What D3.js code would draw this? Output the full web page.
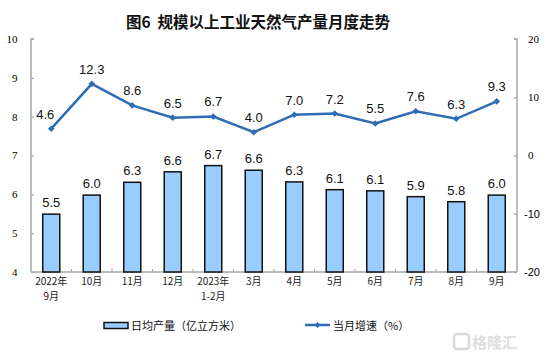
<!DOCTYPE html>
<html><head><meta charset="utf-8">
<script src="https://cdn.jsdelivr.net/npm/d3@7"></script>
<style>body{margin:0;background:#fff}svg{display:block}</style>
</head><body>
<svg id="c" width="554" height="357"></svg>
<script>
const categories = [["2022年","9月"],["10月"],["11月"],["12月"],["2023年","1-2月"],["3月"],["4月"],["5月"],["6月"],["7月"],["8月"],["9月"]];
const outputValues = [5.49,5.98,6.31,6.58,6.74,6.62,6.32,6.12,6.09,5.94,5.81,5.98];
const outputLabels = ["5.5","6.0","6.3","6.6","6.7","6.6","6.3","6.1","6.1","5.9","5.8","6.0"];
const growthValues = [4.6,12.3,8.6,6.5,6.7,4.0,7.0,7.2,5.5,7.6,6.3,9.3];
const growthLabels = ["4.6","12.3","8.6","6.5","6.7","4.0","7.0","7.2","5.5","7.6","6.3","9.3"];
const leftTicks = [4,5,6,7,8,9,10];
const rightTicks = [-20,-10,0,10,20];
const title = "图6  规模以上工业天然气产量月度走势";
const legendBar = "日均产量（亿立方米）";
const legendLine = "当月增速（%）";

const svg = d3.select("#c");
const L = 31, R = 517, T = 39, B = 272;
const idx = d3.range(categories.length);
const x = d3.scaleBand().domain(idx).range([L, R]).paddingInner(0.58).paddingOuter(0.29);
const xb = d3.scaleBand().domain(idx).range([L, R]);
const yL = d3.scaleLinear().domain([4, 10]).range([B, T]);
const yR = d3.scaleLinear().domain([-20, 20]).range([B, T]);
const axisColor = "#a6a6a6";
const blue = "#2E6DB5";
const cjk = "'Noto Sans CJK SC', 'Noto Sans', sans-serif";
const sans = "'Liberation Sans', Arial, sans-serif";
const serif = "'Liberation Serif', 'Times New Roman', serif";

// title
svg.append("text").attr("x", 258).attr("y", 28).attr("text-anchor", "middle")
  .attr("font-family", cjk).attr("font-size", 15.5).attr("font-weight", 700).attr("fill", "#111")
  .attr("xml:space", "preserve").text(title);

// left axis
const gl = svg.append("g").attr("transform", `translate(${L},0)`)
  .call(d3.axisRight(yL).tickValues(leftTicks).tickSize(3).tickFormat(""));
gl.select(".domain").attr("d", `M3,${T}H0V${B}`).attr("stroke", axisColor).attr("stroke-width", 1.5);
gl.selectAll(".tick line").attr("stroke", axisColor).attr("stroke-width", 1.2);
svg.append("g").selectAll("text").data(leftTicks).join("text")
  .attr("x", 17.5).attr("y", d => yL(d)).attr("dy", "0.35em").attr("text-anchor", "end")
  .attr("font-family", serif).attr("font-size", 11).attr("fill", "#000").text(d => d);

// right axis
const gr = svg.append("g").attr("transform", `translate(${R},0)`)
  .call(d3.axisLeft(yR).tickValues(rightTicks).tickSize(3).tickFormat(""));
gr.select(".domain").attr("d", `M-3,${T}H0V${B}`).attr("stroke", axisColor).attr("stroke-width", 1.5);
gr.selectAll(".tick line").attr("stroke", axisColor).attr("stroke-width", 1.2);
svg.append("g").selectAll("text").data(rightTicks).join("text")
  .attr("x", d => d < 0 ? 524 : 528).attr("y", d => yR(d)).attr("dy", "0.35em")
  .attr("font-family", d => d < 0 ? sans : serif).attr("font-size", 11).attr("fill", "#000").text(d => d);

// x axis
svg.append("line").attr("x1", L).attr("x2", R).attr("y1", B).attr("y2", B)
  .attr("stroke", axisColor).attr("stroke-width", 1.5);
svg.append("g").selectAll("line").data(idx.slice(1)).join("line")
  .attr("x1", d => xb(d)).attr("x2", d => xb(d)).attr("y1", B).attr("y2", B - 3)
  .attr("stroke", axisColor).attr("stroke-width", 1);
const xl = svg.append("g").selectAll("text").data(idx).join("text")
  .attr("x", d => xb(d) + xb.bandwidth() / 2).attr("y", 285).attr("text-anchor", "middle")
  .attr("font-family", cjk).attr("font-size", 10).attr("fill", "#222");
xl.selectAll("tspan").data(d => categories[d].map(t => ({t, cx: xb(d) + xb.bandwidth() / 2}))).join("tspan")
  .attr("x", d => d.cx).attr("dy", (d, i) => i ? 14.6 : 0).text(d => d.t);

// bars
svg.append("g").selectAll("rect").data(idx).join("rect")
  .attr("x", d => x(d)).attr("width", x.bandwidth())
  .attr("y", d => yL(outputValues[d])).attr("height", d => B - yL(outputValues[d]))
  .attr("fill", "#99CCFF").attr("stroke", "#111").attr("stroke-width", 1.5);
svg.append("g").selectAll("text").data(idx).join("text")
  .attr("x", d => x(d) + x.bandwidth() / 2).attr("y", d => yL(outputValues[d]) - 7)
  .attr("text-anchor", "middle").attr("font-family", sans).attr("font-size", 13).attr("fill", "#111")
  .text(d => outputLabels[d]);

// line
const cx = d => xb(d) + xb.bandwidth() / 2;
svg.append("path").datum(idx)
  .attr("d", d3.line().x(cx).y(d => yR(growthValues[d])))
  .attr("fill", "none").attr("stroke", blue).attr("stroke-width", 2.5);
svg.append("g").selectAll("path").data(idx).join("path")
  .attr("transform", d => `translate(${cx(d)},${yR(growthValues[d])})`)
  .attr("d", d3.symbol(d3.symbolDiamond2, 28)).attr("fill", blue);
svg.append("g").selectAll("text").data(idx).join("text")
  .attr("x", d => cx(d) + (d === 0 ? -6 : 0)).attr("y", d => yR(growthValues[d]) - 10)
  .attr("text-anchor", "middle").attr("font-family", sans).attr("font-size", 13).attr("fill", "#111")
  .text(d => growthLabels[d]);

// legend
svg.append("rect").attr("x", 104).attr("y", 322.5).attr("width", 24).attr("height", 6)
  .attr("fill", "#99CCFF").attr("stroke", "#111").attr("stroke-width", 1.5);
svg.append("text").attr("x", 131).attr("y", 330).attr("font-family", cjk).attr("font-size", 11)
  .attr("fill", "#111").text(legendBar);
svg.append("line").attr("x1", 305).attr("x2", 330).attr("y1", 325).attr("y2", 325)
  .attr("stroke", blue).attr("stroke-width", 2.5);
svg.append("path").attr("transform", "translate(317.5,325)").attr("d", d3.symbol(d3.symbolDiamond2, 22)).attr("fill", blue);
svg.append("text").attr("x", 333).attr("y", 330).attr("font-family", cjk).attr("font-size", 11)
  .attr("fill", "#111").text(legendLine);

// watermark
const wm = svg.append("g").attr("opacity", 0.9);
wm.append("rect").attr("x", 454).attr("y", 334).attr("width", 15).attr("height", 15).attr("rx", 3)
  .attr("fill", "none").attr("stroke", "#d6d6d6").attr("stroke-width", 2.5);
wm.append("text").attr("x", 472).attr("y", 348).attr("font-family", cjk).attr("font-size", 15).attr("font-weight", 700)
  .attr("fill", "#dcdcdc").text("格隆汇");
</script>
</body></html>
